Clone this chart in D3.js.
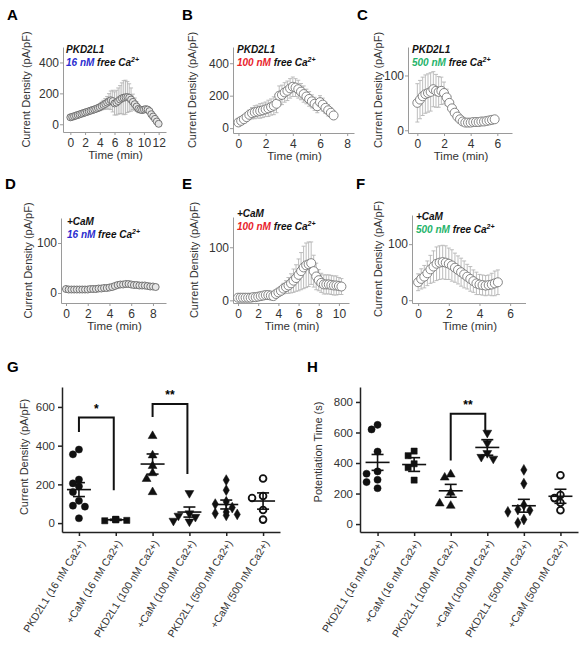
<!DOCTYPE html>
<html>
<head>
<meta charset="utf-8">
<script src="https://cdn.jsdelivr.net/npm/d3@7"></script>
<style>
  body { margin: 0; background: #fff; }
  svg text { font-family: Arial, "Liberation Sans", sans-serif; }
</style>
</head>
<body>
<svg id="fig" width="583" height="646"></svg>
<script>
// ---------- time course data (min, pA/pF, SEM) ----------
var aTime = [0,0.25,0.5,0.75,1,1.25,1.5,1.75,2,2.25,2.5,2.75,3,3.25,3.5,3.75,4,4.25,4.5,4.75,5,5.25,5.5,5.75,6,6.25,6.5,6.75,7,7.25,7.5,7.75,8,8.25,8.5,8.75,9,9.25,9.5,9.75,10,10.25,10.5,10.75,11,11.25,11.5,11.75,12];
var aMean = [45,48,52,56,60,64,68,72,76,80,84,88,92,96,100,105,110,118,125,132,140,148,155,150,135,140,150,160,168,172,175,176,172,160,145,130,115,100,95,92,95,98,95,85,65,50,35,18,3];
var aErr  = [8,8,9,9,10,10,11,11,12,12,13,14,15,16,18,20,22,25,30,35,40,50,60,70,75,80,85,90,100,110,110,100,90,75,50,40,30,25,20,18,15,14,14,13,12,12,10,10,8];

var bTime = [0,0.2,0.4,0.6,0.8,1,1.2,1.4,1.6,1.8,2,2.2,2.4,2.6,2.8,3,3.2,3.4,3.6,3.8,4,4.2,4.4,4.6,4.8,5,5.2,5.4,5.6,5.8,6,6.2,6.4,6.6,6.8,7];
var bMean = [35,45,55,68,82,92,98,102,106,110,116,122,130,138,150,200,205,220,230,245,255,250,240,225,210,195,180,165,150,135,160,145,125,110,95,78];
var bErr  = [10,15,20,25,30,35,40,40,45,45,45,50,50,55,55,60,60,60,60,60,60,55,55,50,50,45,45,40,40,40,40,40,35,35,30,25];

var cTime = [0,0.2,0.4,0.6,0.8,1,1.2,1.4,1.6,1.8,2,2.2,2.4,2.6,2.8,3,3.2,3.4,3.6,3.8,4,4.2,4.4,4.6,4.8,5,5.2,5.4,5.6,5.8];
var cMean = [50,56,62,66,68,70,75,72,70,72,68,60,50,40,32,25,20,16,14,14,14,15,15,15,16,16,17,18,19,20];
var cErr  = [35,35,35,35,35,35,32,30,28,25,20,15,12,10,8,6,5,4,4,4,4,4,4,4,4,4,5,5,6,6];

var dTime = [0,0.25,0.5,0.75,1,1.25,1.5,1.75,2,2.25,2.5,2.75,3,3.25,3.5,3.75,4,4.25,4.5,4.75,5,5.25,5.5,5.75,6,6.25,6.5,6.75,7,7.25,7.5,7.75,8,8.25];
var dMean = [8,7,7,7,7,7,7,7,7,8,8,8,9,9,10,10,11,12,14,16,17,17,18,18,17,16,16,15,15,15,14,13,13,12];
var dErr  = [2,2,2,2,2,2,2,2,2,2,2,2,2,2,2,2,3,3,3,4,4,4,4,4,4,4,4,4,4,4,4,3,3,3];

var eTime = [0,0.25,0.5,0.75,1,1.25,1.5,1.75,2,2.25,2.5,2.75,3,3.25,3.5,3.75,4,4.25,4.5,4.75,5,5.25,5.5,5.75,6,6.25,6.5,6.75,7,7.25,7.5,7.75,8,8.25,8.5,8.75,9,9.25,9.5,9.75,10,10.25];
var eMean = [5,5,5,5,5,5,6,6,7,8,9,10,10,9,8,12,15,18,22,25,28,32,37,42,48,55,62,66,68,70,55,45,38,33,30,30,30,29,28,28,27,26];
var eErr  = [2,2,2,2,2,2,2,3,3,3,3,3,3,3,4,5,6,8,10,12,15,18,22,25,30,35,40,42,42,40,30,25,20,18,18,18,18,18,18,18,16,15];

var fTime = [0,0.2,0.4,0.6,0.8,1,1.2,1.4,1.6,1.8,2,2.2,2.4,2.6,2.8,3,3.2,3.4,3.6,3.8,4,4.2,4.4,4.6,4.8,5,5.2];
var fMean = [32,38,42,48,55,60,65,67,68,67,65,62,58,54,50,46,42,38,34,30,28,27,26,27,28,30,32];
var fErr  = [15,18,20,22,25,28,30,30,30,30,28,28,26,25,25,24,22,22,20,20,18,18,18,18,20,22,22];

// ---------- scatter data ----------
var groups = ["PKD2L1 (16 nM Ca2+)", "+CaM (16 nM Ca2+)", "PKD2L1 (100 nM Ca2+)",
              "+CaM (100 nM Ca2+)", "PKD2L1 (500 nM Ca2+)", "+CaM (500 nM Ca2+)"];

var gPoints = [
  [380, 355, 225, 205, 190, 160, 115, 90, 85, 25],
  [18, 12, 14, 20, 17],
  [450, 350, 295, 258, 228, 160],
  [155, 50, 38, 32, 8, 12],
  [222, 170, 110, 98, 80, 57, 50, 45, 40],
  [230, 140, 130, 68, 18]
];
var gMean = [173, 17, 305, 57, 96, 114];
var gSem  = [36, 3, 52, 26, 23, 42];

var hPoints = [
  [650, 620, 475, 345, 330, 290, 275, 235],
  [478, 448, 395, 370, 288],
  [325, 305, 205, 120, 135],
  [598, 530, 465, 440, 428],
  [355, 265, 125, 95, 90, 80, 30, 8],
  [320, 190, 170, 140, 90]
];
var hMean = [404, 390, 218, 502, 120, 182];
var hSem  = [52, 45, 42, 51, 42, 46];

var blue = "#2a2ccf", red = "#e8232b", green = "#25b36a";

var svg = d3.select("#fig");
svg.append("rect").attr("width", 583).attr("height", 646).attr("fill", "#fff");

// panel letters
var letters = [["A",7,20],["B",182,20],["C",357,20],["D",5,189],["E",182,189],["F",356,189],["G",7,372],["H",307,372]];
svg.selectAll("text.letter").data(letters).enter().append("text")
  .attr("class", "letter")
  .attr("x", d => d[1]).attr("y", d => d[2])
  .style("font-size", "15px").style("font-weight", "bold")
  .text(d => d[0]);

// time course panels
var panels = [
  {t:aTime, m:aMean, e:aErr, xDom:[-1,13], xr:[63,166], yDom:[-50,500], yr:[132,47], xt:[0,2,4,6,8,10,12], yt:[0,200,400], r:3.5, dark:true,
   tx:66, ty:53, l1:"PKD2L1", conc:"16 nM", col:blue, ylx:30},
  {t:bTime, m:bMean, e:bErr, xDom:[-0.4,8.5], xr:[233,354], yDom:[-30,500], yr:[133,47], xt:[0,2,4,6,8], yt:[0,200,400], r:4.5,
   tx:237, ty:53, l1:"PKD2L1", conc:"100 nM", col:red, ylx:196},
  {t:cTime, m:cMean, e:cErr, xDom:[-0.7,7.1], xr:[408,512], yDom:[-5,152], yr:[133,47], xt:[0,2,4,6], yt:[0,100], r:4.5,
   tx:412, ty:53, l1:"PKD2L1", conc:"500 nM", col:green, ylx:382},
  {t:dTime, m:dMean, e:dErr, xDom:[-0.46,9.2], xr:[61,166], yDom:[-20,150], yr:[303,218], xt:[0,2,4,6,8], yt:[0,100], r:3.5, dark:true,
   tx:67, ty:225, l1:"+CaM", conc:"16 nM", col:blue, ylx:32},
  {t:eTime, m:eMean, e:eErr, xDom:[-0.5,11], xr:[233,349], yDom:[-5,157], yr:[303,217], xt:[0,2,4,6,8,10], yt:[0,100], r:4.5,
   tx:237, ty:217, l1:"+CaM", conc:"100 nM", col:red, ylx:198},
  {t:fTime, m:fMean, e:fErr, xDom:[-0.4,7], xr:[412,525.5], yDom:[-5,152], yr:[303,215], xt:[0,2,4,6], yt:[0,100], r:4.5,
   tx:416, ty:220, l1:"+CaM", conc:"500 nM", col:green, ylx:382}
];

panels.forEach(function(p) {
  var x = d3.scaleLinear().domain(p.xDom).range(p.xr);
  var y = d3.scaleLinear().domain(p.yDom).range(p.yr);
  var g = svg.append("g");

  var xAxis = g.append("g").attr("transform", `translate(0,${p.yr[0]})`)
    .call(d3.axisBottom(x).tickValues(p.xt).tickSize(3).tickSizeOuter(0).tickPadding(3));
  var yAxis = g.append("g").attr("transform", `translate(${p.xr[0]},0)`)
    .call(d3.axisLeft(y).tickValues(p.yt).tickSize(3).tickSizeOuter(0).tickPadding(1));
  [xAxis, yAxis].forEach(function(a) {
    a.select(".domain").attr("stroke", "#9a9a9a");
    a.selectAll(".tick line").attr("stroke", "#9a9a9a");
    a.selectAll(".tick text").attr("fill", "#333").style("font-size", "12px");
  });

  var pts = p.t.map((t, i) => ({t: t, m: p.m[i], e: p.e[i]}));

  // error bars
  var eb = g.append("g").attr("stroke", "#b5b5b5").attr("stroke-width", 0.9);
  eb.selectAll("line.v").data(pts).enter().append("line")
    .attr("x1", d => x(d.t)).attr("x2", d => x(d.t))
    .attr("y1", d => y(d.m - d.e)).attr("y2", d => y(d.m + d.e));
  eb.selectAll("line.ct").data(pts).enter().append("line")
    .attr("x1", d => x(d.t) - 2).attr("x2", d => x(d.t) + 2)
    .attr("y1", d => y(d.m + d.e)).attr("y2", d => y(d.m + d.e));
  eb.selectAll("line.cb").data(pts).enter().append("line")
    .attr("x1", d => x(d.t) - 2).attr("x2", d => x(d.t) + 2)
    .attr("y1", d => y(d.m - d.e)).attr("y2", d => y(d.m - d.e));

  // open circles
  g.selectAll("circle").data(pts).enter().append("circle")
    .attr("cx", d => x(d.t)).attr("cy", d => y(d.m)).attr("r", p.r)
    .attr("fill", p.dark ? "#e6e6e6" : "#fff")
    .attr("stroke", p.dark ? "#666" : "#777").attr("stroke-width", 0.9);

  // legend text
  var lg = g.append("g").style("font-size", "10px").style("font-weight", "bold").style("font-style", "italic");
  lg.append("text").attr("x", p.tx).attr("y", p.ty).attr("fill", "#111").text(p.l1);
  var t2 = lg.append("text").attr("x", p.tx).attr("y", p.ty + 13);
  t2.append("tspan").attr("fill", p.col).text(p.conc);
  t2.append("tspan").attr("fill", "#111").text(" free Ca");
  t2.append("tspan").attr("fill", "#111").attr("dy", -4).style("font-size", "7px").text("2+");

  // axis titles
  var midY = (p.yr[0] + p.yr[1]) / 2;
  g.append("text")
    .attr("transform", `translate(${p.ylx},${midY}) rotate(-90)`)
    .attr("text-anchor", "middle").attr("fill", "#333").style("font-size", "11px")
    .text("Current Density (pA/pF)");
  g.append("text")
    .attr("x", (p.xr[0] + p.xr[1]) / 2 + 1).attr("y", p.yr[0] + 27)
    .attr("text-anchor", "middle").attr("fill", "#333").style("font-size", "11.5px")
    .text("Time (min)");
});

// ---------- scatter panels ----------
var symbols = [
  {type: d3.symbolCircle, size: 40, rot: 0, open: false},
  {type: d3.symbolSquare, size: 38, rot: 0, open: false},
  {type: d3.symbolTriangle, size: 34, rot: 0, open: false},
  {type: d3.symbolTriangle, size: 34, rot: 180, open: false},
  {type: d3.symbolDiamond, size: 34, rot: 0, open: false},
  {type: d3.symbolCircle, size: 36, rot: 0, open: true}
];

function swarm(vals, y) {
  // simple deterministic beeswarm offsets
  var placed = [];
  var offs = [0, -6, 6, -11, 11, -16, 16];
  return vals.map(function(v) {
    var py = y(v), dx = 0;
    for (var k = 0; k < offs.length; k++) {
      var ok = placed.every(q => Math.hypot(q[0] - offs[k], q[1] - py) >= 6.5);
      if (ok) { dx = offs[k]; break; }
    }
    placed.push([dx, py]);
    return dx;
  });
}

function scatterPanel(cfg) {
  var x = d3.scalePoint().domain(groups).range(cfg.xr).padding(cfg.pad);
  var y = d3.scaleLinear().domain(cfg.yDom).range(cfg.yr);
  var g = svg.append("g");

  var xAxis = g.append("g").attr("transform", `translate(0,${cfg.yr[0]})`)
    .call(d3.axisBottom(x).tickSize(4).tickSizeOuter(0));
  var yAxis = g.append("g").attr("transform", `translate(${cfg.xr[0]},0)`)
    .call(d3.axisLeft(y).tickValues(cfg.yt).tickSize(4).tickSizeOuter(0).tickPadding(3));
  [xAxis, yAxis].forEach(function(a) {
    a.select(".domain").attr("stroke", "#222").attr("stroke-width", 1.5);
    a.selectAll(".tick line").attr("stroke", "#222").attr("stroke-width", 1.5);
    a.selectAll(".tick text").attr("fill", "#333").style("font-size", "11.5px");
  });
  xAxis.selectAll(".tick text")
    .attr("x", 0).attr("y", 0).attr("dy", "0.35em")
    .attr("text-anchor", "end")
    .attr("transform", "translate(3,9) rotate(-58)")
    .style("font-size", "10.5px");

  groups.forEach(function(name, i) {
    var cx = x(name);
    var vals = cfg.points[i];
    var offs = swarm(vals, y);
    var s = symbols[i];
    g.selectAll(null).data(vals).enter().append("path")
      .attr("d", d3.symbol().type(s.type).size(s.size))
      .attr("transform", (d, k) => `translate(${cx + offs[k]},${y(d)}) rotate(${s.rot})`)
      .attr("fill", s.open ? "#fff" : "#111")
      .attr("stroke", "#111").attr("stroke-width", s.open ? 1.8 : 0.5);

    var m = cfg.mean[i], se = cfg.sem[i];
    var st = g.append("g").attr("stroke", "#111").attr("stroke-width", 1.6);
    st.append("line").attr("x1", cx - 12).attr("x2", cx + 12).attr("y1", y(m)).attr("y2", y(m));
    st.append("line").attr("x1", cx).attr("x2", cx).attr("y1", y(m - se)).attr("y2", y(m + se));
    st.append("line").attr("x1", cx - 6).attr("x2", cx + 6).attr("y1", y(m + se)).attr("y2", y(m + se));
    st.append("line").attr("x1", cx - 6).attr("x2", cx + 6).attr("y1", y(m - se)).attr("y2", y(m - se));
  });

  cfg.brackets.forEach(function(b) {
    var x1 = x(groups[b[0]]), x2 = x(groups[b[1]]) - 2;
    g.append("path")
      .attr("d", `M${x1},${y(b[2])}V${y(b[3])}H${x2}V${y(b[4])}`)
      .attr("fill", "none").attr("stroke", "#111").attr("stroke-width", 2);
    g.append("text").attr("x", (x1 + x2) / 2).attr("y", y(b[3]) - 5)
      .attr("text-anchor", "middle").style("font-size", "12px").style("font-weight", "bold")
      .text(b[5]);
  });

  g.append("text")
    .attr("transform", `translate(${cfg.ylx},${cfg.yly}) rotate(-90)`)
    .attr("text-anchor", "middle").attr("fill", "#333").style("font-size", "11px")
    .text(cfg.title);
}

scatterPanel({xr:[62,280], pad:0.46, yDom:[-46,703], yr:[532,387], yt:[0,200,400,600],
  points:gPoints, mean:gMean, sem:gSem, ylx:28, yly:457, title:"Current Density (pA/pF)",
  brackets:[[0,1,470,545,170,"*"],[2,3,548,615,253,"**"]]});
scatterPanel({xr:[360,578], pad:0.48, yDom:[-52,898], yr:[532,387], yt:[0,200,400,600,800],
  points:hPoints, mean:hMean, sem:hSem, ylx:322, yly:452, title:"Potentiation Time (s)",
  brackets:[[2,3,417,723,599,"**"]]});
</script>
</body>
</html>
